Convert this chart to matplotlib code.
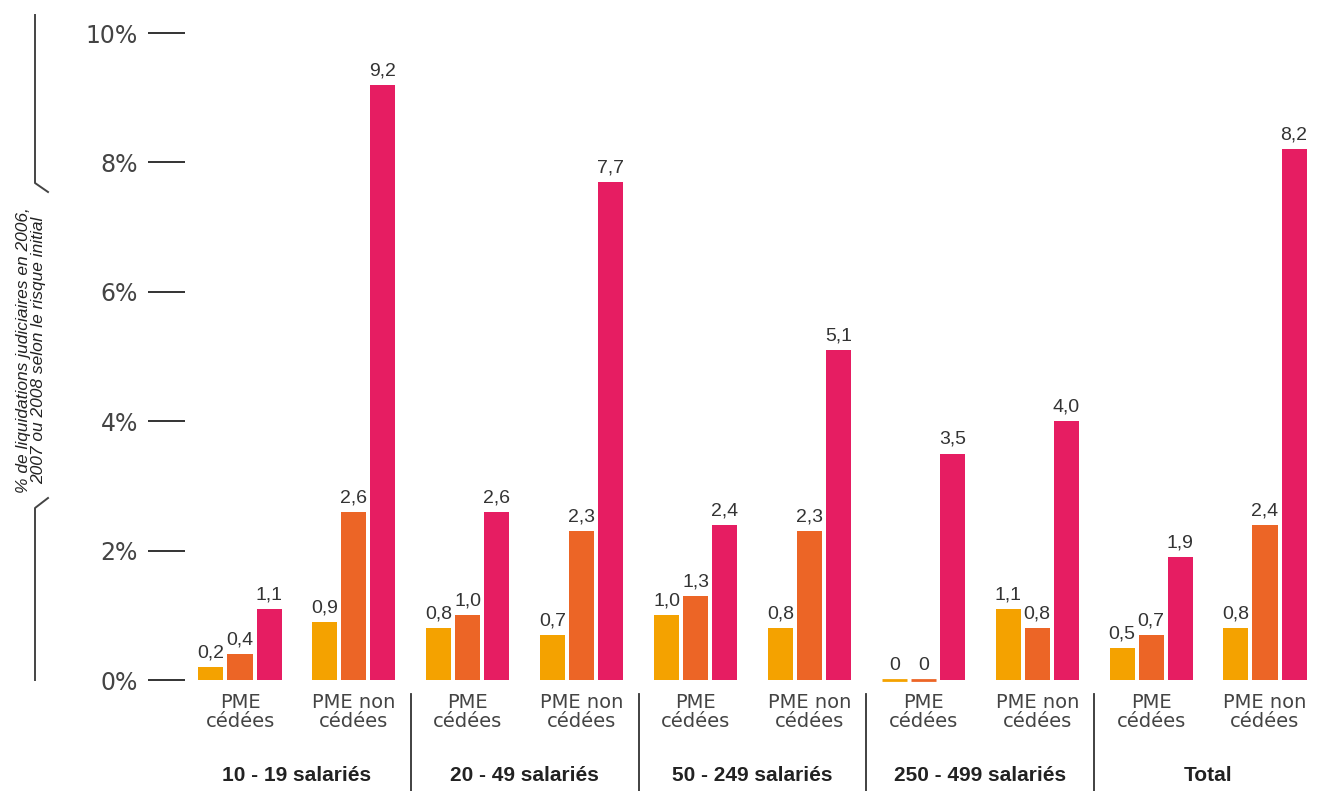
import matplotlib
matplotlib.use('Agg')
import matplotlib.pyplot as plt
from matplotlib import font_manager
from matplotlib.lines import Line2D
from matplotlib.transforms import blended_transform_factory

# data (percent)
groups = ['10 - 19 salariés', '20 - 49 salariés', '50 - 249 salariés', '250 - 499 salariés', 'Total']
subgroups = ['PME\ncédées', 'PME non\ncédées']
# one value per subgroup (10 subgroups = 5 groups x 2)
risk_low = [0.2, 0.9, 0.8, 0.7, 1.0, 0.8, 0.0, 1.1, 0.5, 0.8]
risk_mid = [0.4, 2.6, 1.0, 2.3, 1.3, 2.3, 0.0, 0.8, 0.7, 2.4]
risk_high = [1.1, 9.2, 2.6, 7.7, 2.4, 5.1, 3.5, 4.0, 1.9, 8.2]
y_ticks = [0, 2, 4, 6, 8, 10]

colors = ['#F4A200', '#EC6526', '#E61D62']

names = {f.name for f in font_manager.fontManager.ttflist}
narrow = 'Liberation Sans Narrow' if 'Liberation Sans Narrow' in names else 'Liberation Sans'

W, H = 1329, 791
fig = plt.figure(figsize=(W / 100, H / 100), dpi=100)
ax = fig.add_axes([185 / W, 1 - 680 / H, (1320 - 185) / W, (680 - 33) / H])

x = list(range(len(risk_low)))
step = 0.255
width = 0.22
for k, vals in enumerate([risk_low, risk_mid, risk_high]):
    pos = [xi + (k - 1) * step for xi in x]
    lw = [2 if v == 0 else 0 for v in vals]
    ax.bar(pos, vals, width=width, color=colors[k], edgecolor=colors[k], linewidth=lw, clip_on=False)
    for p, v in zip(pos, vals):
        txt = ('%.1f' % v).replace('.', ',') if v != 0 else '0'
        ax.annotate(txt, (p, v), xytext=(0, 4), textcoords='offset points',
                    ha='center', va='bottom', fontsize=14, color='#333333', family=narrow)

ax.set_ylim(0, 10)
ax.set_xlim(-0.483, 9.483)
ax.set_yticks(y_ticks)
ax.set_yticklabels(['%d%%' % t for t in y_ticks], fontsize=17, color='#444444')
ax.tick_params(axis='y', length=27, width=1.4, color='#333333', pad=7)
ax.set_xticks(x)
ax.set_xticklabels(subgroups * len(groups), fontsize=14, color='#444444', linespacing=1.05)
ax.tick_params(axis='x', length=0, pad=9)
for s in ax.spines.values():
    s.set_visible(False)

# group labels and separators under the axis
trans = blended_transform_factory(ax.transData, ax.transAxes)
for i, g in enumerate(groups):
    ax.text(2 * i + 0.5, -0.148, g, transform=trans, ha='center', va='center',
            fontsize=15, fontweight='bold', color='#222222', family=narrow)
for i in range(1, len(groups)):
    ax.plot([2 * i - 0.5, 2 * i - 0.5], [-0.022, -0.172], transform=trans,
            color='#333333', lw=1.3, clip_on=False)

# bracketed y-axis title on the left
def fx(px):
    return px / W

def fy(py):
    return 1 - py / H

fig.add_artist(Line2D([fx(35), fx(35), fx(48)], [fy(15), fy(183), fy(192)], color='#444444', lw=1.4))
fig.add_artist(Line2D([fx(48), fx(35), fx(35)], [fy(498), fy(508), fy(680)], color='#444444', lw=1.4))
fig.text(fx(31), fy(350), '% de liquidations judiciaires en 2006,\n2007 ou 2008 selon le risque initial',
         rotation=90, ha='center', va='center', fontsize=12.5, style='italic',
         color='#222222', family=narrow, linespacing=1.0)

fig.savefig('out.png', dpi=100)
